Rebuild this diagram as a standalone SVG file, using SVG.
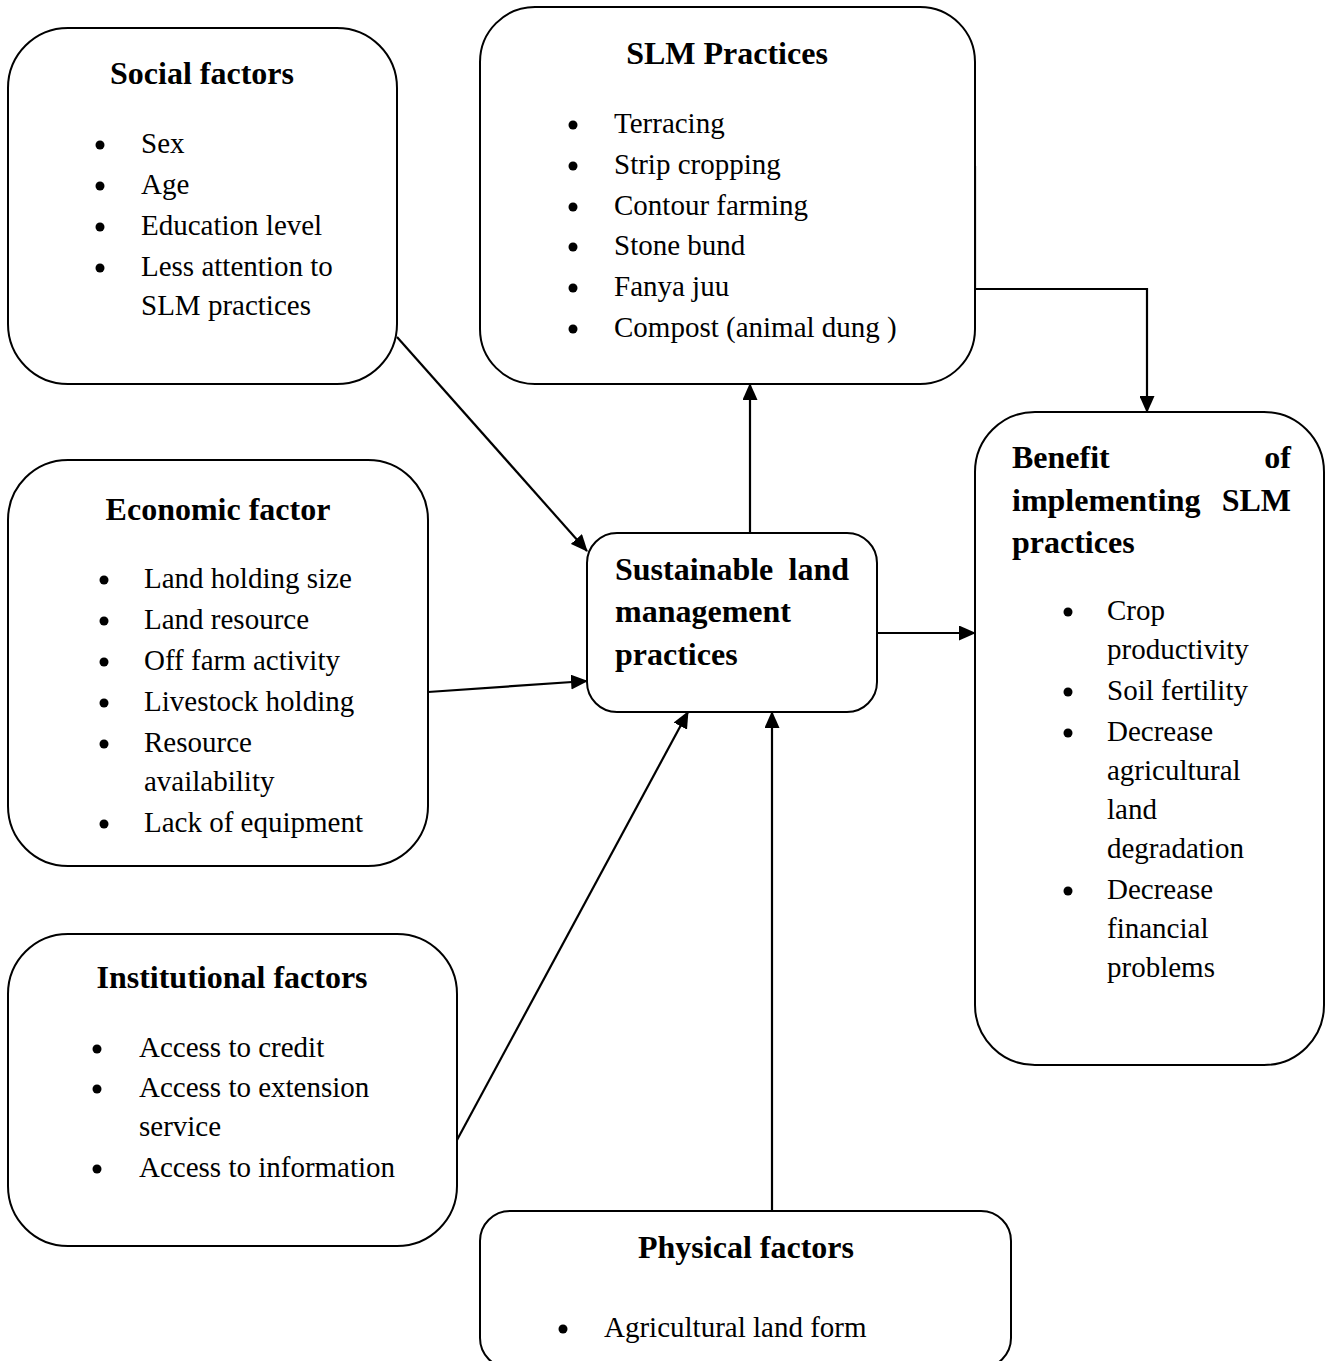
<svg xmlns="http://www.w3.org/2000/svg" width="1325" height="1361" viewBox="0 0 1325 1361">
<style>
.box{fill:#fff;stroke:#000;stroke-width:2}
.t{font-family:"Liberation Serif","Times New Roman",serif;font-size:29px;fill:#000}
.h{font-family:"Liberation Serif","Times New Roman",serif;font-size:32px;font-weight:bold;fill:#000}
.c{text-anchor:middle}
.e{text-anchor:end}
.conn{stroke:#000;stroke-width:2.2;fill:none}
</style>
<defs>
<marker id="arr" markerUnits="userSpaceOnUse" markerWidth="17" markerHeight="15" refX="16" refY="7.5" orient="auto">
<path d="M0,0 L17,7.5 L0,15 Z" fill="#000"/>
</marker>
</defs>
<rect width="1325" height="1361" fill="#fff"/>

<g id="connectors">
<line class="conn" x1="397" y1="337" x2="587" y2="551" marker-end="url(#arr)"/>
<line class="conn" x1="428" y1="692" x2="587" y2="681" marker-end="url(#arr)"/>
<line class="conn" x1="457" y1="1140" x2="688" y2="712" marker-end="url(#arr)"/>
<line class="conn" x1="772" y1="1211" x2="772" y2="712" marker-end="url(#arr)"/>
<line class="conn" x1="750" y1="533" x2="750" y2="384" marker-end="url(#arr)"/>
<line class="conn" x1="877" y1="633" x2="975" y2="633" marker-end="url(#arr)"/>
<polyline class="conn" points="975,166 975,289 1147,289 1147,412" marker-end="url(#arr)"/>
</g>

<g id="social">
<rect class="box" x="8" y="28" width="389" height="356" rx="60"/>
<text class="h c" x="202" y="84">Social factors</text>
<circle cx="100" cy="145" r="4.5"/><text class="t" x="141" y="153">Sex</text>
<circle cx="100" cy="186" r="4.5"/><text class="t" x="141" y="194">Age</text>
<circle cx="100" cy="227" r="4.5"/><text class="t" x="141" y="235">Education level</text>
<circle cx="100" cy="268" r="4.5"/><text class="t" x="141" y="276">Less attention to</text>
<text class="t" x="141" y="315">SLM practices</text>
</g>

<g id="slm-practices">
<rect class="box" x="480" y="7" width="495" height="377" rx="55"/>
<text class="h c" x="727" y="64">SLM Practices</text>
<circle cx="573" cy="125" r="4.5"/><text class="t" x="614" y="133">Terracing</text>
<circle cx="573" cy="166" r="4.5"/><text class="t" x="614" y="174">Strip cropping</text>
<circle cx="573" cy="207" r="4.5"/><text class="t" x="614" y="215">Contour farming</text>
<circle cx="573" cy="247" r="4.5"/><text class="t" x="614" y="255">Stone bund</text>
<circle cx="573" cy="288" r="4.5"/><text class="t" x="614" y="296">Fanya juu</text>
<circle cx="573" cy="329" r="4.5"/><text class="t" x="614" y="337">Compost (animal dung )</text>
</g>

<g id="economic">
<rect class="box" x="8" y="460" width="420" height="406" rx="60"/>
<text class="h c" x="218" y="520">Economic factor</text>
<circle cx="104" cy="580" r="4.5"/><text class="t" x="144" y="588">Land holding size</text>
<circle cx="104" cy="621" r="4.5"/><text class="t" x="144" y="629">Land resource</text>
<circle cx="104" cy="662" r="4.5"/><text class="t" x="144" y="670">Off farm activity</text>
<circle cx="104" cy="703" r="4.5"/><text class="t" x="144" y="711">Livestock holding</text>
<circle cx="104" cy="744" r="4.5"/><text class="t" x="144" y="752">Resource</text>
<text class="t" x="144" y="791">availability</text>
<circle cx="104" cy="824" r="4.5"/><text class="t" x="144" y="832">Lack of equipment</text>
</g>

<g id="central">
<rect class="box" x="587" y="533" width="290" height="179" rx="30"/>
<text class="h" x="615" y="580">Sustainable</text>
<text class="h e" x="849" y="580">land</text>
<text class="h" x="615" y="622">management</text>
<text class="h" x="615" y="665">practices</text>
</g>

<g id="benefit">
<rect class="box" x="975" y="412" width="349" height="653" rx="60"/>
<text class="h" x="1012" y="468">Benefit</text>
<text class="h e" x="1291" y="468">of</text>
<text class="h" x="1012" y="511">implementing</text>
<text class="h e" x="1291" y="511">SLM</text>
<text class="h" x="1012" y="553">practices</text>
<circle cx="1068" cy="612" r="4.5"/><text class="t" x="1107" y="620">Crop</text>
<text class="t" x="1107" y="659">productivity</text>
<circle cx="1068" cy="692" r="4.5"/><text class="t" x="1107" y="700">Soil fertility</text>
<circle cx="1068" cy="733" r="4.5"/><text class="t" x="1107" y="741">Decrease</text>
<text class="t" x="1107" y="780">agricultural</text>
<text class="t" x="1107" y="819">land</text>
<text class="t" x="1107" y="858">degradation</text>
<circle cx="1068" cy="891" r="4.5"/><text class="t" x="1107" y="899">Decrease</text>
<text class="t" x="1107" y="938">financial</text>
<text class="t" x="1107" y="977">problems</text>
</g>

<g id="institutional">
<rect class="box" x="8" y="934" width="449" height="312" rx="60"/>
<text class="h c" x="232" y="988">Institutional factors</text>
<circle cx="97" cy="1049" r="4.5"/><text class="t" x="139" y="1057">Access to credit</text>
<circle cx="97" cy="1089" r="4.5"/><text class="t" x="139" y="1097">Access to extension</text>
<text class="t" x="139" y="1136">service</text>
<circle cx="97" cy="1169" r="4.5"/><text class="t" x="139" y="1177">Access to information</text>
</g>

<g id="physical">
<rect class="box" x="480" y="1211" width="531" height="157" rx="30"/>
<text class="h c" x="746" y="1258">Physical factors</text>
<circle cx="563" cy="1329" r="4.5"/><text class="t" x="604" y="1337">Agricultural land form</text>
</g>
</svg>
